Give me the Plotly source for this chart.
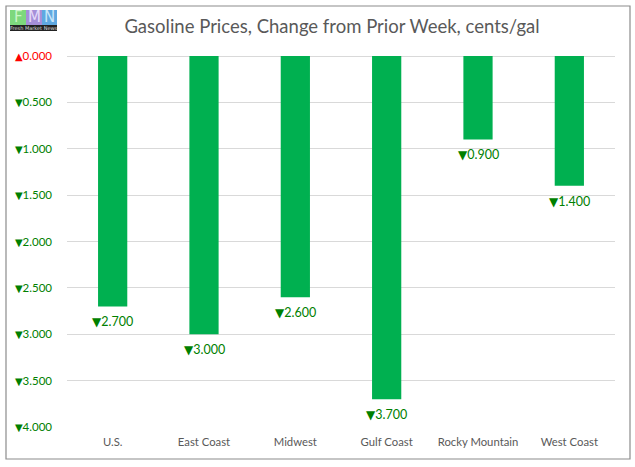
import plotly.graph_objects as go

categories = ["U.S.", "East Coast", "Midwest", "Gulf Coast", "Rocky Mountain", "West Coast"]
change_cents = [-2.7, -3.0, -2.6, -3.7, -0.9, -1.4]
tick_values = [0, -0.5, -1.0, -1.5, -2.0, -2.5, -3.0, -3.5, -4.0]

title_text = "Gasoline Prices, Change from Prior Week, cents/gal"

UP_RED = "#FF0000"
DOWN_GREEN = "#008000"
BAR_GREEN = "#00B050"
FONT = "Lato, Carlito, 'Open Sans', sans-serif"
TRI = "<span style='font-family:DejaVu Sans;font-size:%spx'>%s</span>"


def fmt(v, tri_size):
    if v < 0:
        return TRI % (tri_size, "▼") + "%.3f" % abs(v)
    return TRI % (tri_size, "▲") + "%.3f" % abs(v)


def tick_label(v):
    color = DOWN_GREEN if v < 0 else UP_RED
    return "<span style='color:%s'>%s</span>" % (color, fmt(v, 10))


W, H = 635, 467
L, R, T, B = 67, 20, 56, 40
pw = W - L - R
ph = H - T - B


def px_x(x):
    return (x - L) / pw


def px_y(y):
    return (H - B - y) / ph


fig = go.Figure()
fig.add_trace(go.Bar(
    x=categories,
    y=change_cents,
    marker=dict(color=BAR_GREEN, line=dict(width=0)),
    width=0.32,
    hoverinfo="skip",
    cliponaxis=False,
))

shapes = [
    # outer chart border
    dict(type="rect", xref="paper", yref="paper",
         x0=px_x(6), x1=px_x(630), y0=px_y(459), y1=px_y(6),
         line=dict(color="#8C8C8C", width=1.2), fillcolor="rgba(0,0,0,0)", layer="below"),
    # logo blocks
    dict(type="rect", xref="paper", yref="paper", x0=px_x(10), x1=px_x(26), y0=px_y(25), y1=px_y(10),
         fillcolor="#7DD87D", line=dict(width=0)),
    dict(type="rect", xref="paper", yref="paper", x0=px_x(26), x1=px_x(42), y0=px_y(25), y1=px_y(10),
         fillcolor="#A58FD8", line=dict(width=0)),
    dict(type="rect", xref="paper", yref="paper", x0=px_x(42), x1=px_x(57), y0=px_y(25), y1=px_y(10),
         fillcolor="#5FA8E0", line=dict(width=0)),
    dict(type="rect", xref="paper", yref="paper", x0=px_x(10), x1=px_x(57), y0=px_y(31), y1=px_y(25),
         fillcolor="#222222", line=dict(width=0)),
]

annotations = [
    dict(text="F", x=px_x(18), y=px_y(17.5), xref="paper", yref="paper", showarrow=False,
         font=dict(size=15, color="#C8F5C8", family="DejaVu Sans"), xanchor="center", yanchor="middle"),
    dict(text="M", x=px_x(34), y=px_y(17.5), xref="paper", yref="paper", showarrow=False,
         font=dict(size=15, color="#E6DCFA", family="DejaVu Sans"), xanchor="center", yanchor="middle"),
    dict(text="N", x=px_x(49.5), y=px_y(17.5), xref="paper", yref="paper", showarrow=False,
         font=dict(size=15, color="#C8E6FA", family="DejaVu Sans"), xanchor="center", yanchor="middle"),
    dict(text="Fresh Market News", x=px_x(33.5), y=px_y(28), xref="paper", yref="paper", showarrow=False,
         font=dict(size=5, color="#DDDDDD", family="DejaVu Sans"), xanchor="center", yanchor="middle"),
]

# data labels below each bar end
for cat, val in zip(categories, change_cents):
    annotations.append(dict(
        x=cat, y=val, xref="x", yref="y", text=fmt(val, 12), showarrow=False,
        xanchor="center", yanchor="top", yshift=-6,
        font=dict(size=12.5, color=DOWN_GREEN, family=FONT),
    ))

fig.update_layout(
    width=W, height=H,
    margin=dict(l=L, r=R, t=T, b=B, pad=0),
    paper_bgcolor="white",
    plot_bgcolor="white",
    showlegend=False,
    title=dict(text=title_text, x=332 / W, xanchor="center",
               y=1 - 27 / H, yanchor="middle",
               font=dict(family=FONT, size=18.5, color="#595959")),
    font=dict(family=FONT, size=12, color="#595959"),
    shapes=shapes,
    annotations=annotations,
)

fig.update_xaxes(
    showgrid=False, showline=False, ticks="", zeroline=False,
    tickfont=dict(size=11.3, color="#595959", family=FONT),
    ticklabelstandoff=7,
)
fig.update_yaxes(
    range=[-4, 0],
    tickvals=tick_values,
    ticktext=[tick_label(v) for v in tick_values],
    showgrid=True, gridcolor="#D9D9D9", gridwidth=1,
    zeroline=True, zerolinecolor="#D9D9D9", zerolinewidth=1,
    showline=False, ticks="",
    tickfont=dict(size=11.5, family=FONT),
    ticklabelstandoff=14,
)

fig.write_html(
    "out.html",
    config={"displayModeBar": False},
    post_script="document.body.style.margin='0';document.body.style.overflow='hidden';",
)
